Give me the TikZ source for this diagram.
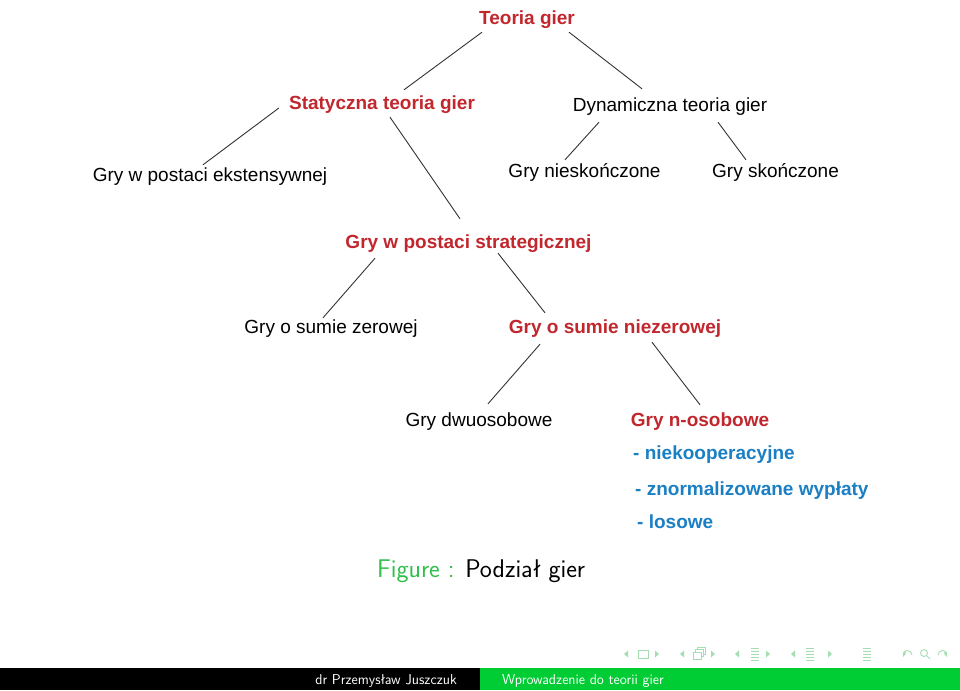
\documentclass[tikz,border=0pt]{standalone}
\usepackage{fontspec}
\newfontfamily\gamefont{Liberation Sans}
\usetikzlibrary{calc}
\definecolor{gred}{RGB}{193,39,45}
\definecolor{gblue}{RGB}{27,127,196}
\definecolor{capgreen}{RGB}{51,191,77}
\definecolor{bargreen}{RGB}{0,204,51}
\definecolor{navgreen}{RGB}{165,222,178}

\begin{document}
\begin{tikzpicture}[x=1pt, y=-1pt,
  gtxt/.style={font=\gamefont\fontsize{19}{22}\selectfont, anchor=base, inner sep=0pt, text height=14pt, text depth=4pt},
  redtxt/.style={gtxt, font=\gamefont\bfseries\fontsize{19}{22}\selectfont, text=gred},
  bluetxt/.style={gtxt, font=\gamefont\bfseries\fontsize{19}{22}\selectfont, text=gblue, anchor=base west},
  foot/.style={inner sep=0pt, text=white, font=\sffamily\fontsize{14.3}{16}\selectfont},
  e/.style={draw=black!80, line width=0.9pt}]
\fill[white] (0,0) rectangle (960,690);
\useasboundingbox (0,0) rectangle (960,690);

% tree
\node[redtxt] (tg) at (527,25) {Teoria gier};
\node[redtxt] (stg) at (382,110) {Statyczna teoria gier};
\node[gtxt] (dtg) at (670,112) {Dynamiczna teoria gier};
\node[gtxt] (ext) at (210,181) {Gry w postaci ekstensywnej};
\node[gtxt] (nie) at (584.5,177) {Gry nieskończone};
\node[gtxt] (sko) at (775.5,177) {Gry skończone};
\node[redtxt] (str) at (468.5,248) {Gry w postaci strategicznej};
\node[gtxt] (zer) at (331,333) {Gry o sumie zerowej};
\node[redtxt] (niez) at (615,333) {Gry o sumie niezerowej};
\node[gtxt] (dwu) at (479,426) {Gry dwuosobowe};
\node[redtxt] (nos) at (700,426) {Gry n-osobowe};
\node[bluetxt] (b1) at (633,459) {- niekooperacyjne};
\node[bluetxt] (b2) at (635,495) {- znormalizowane wypłaty};
\node[bluetxt] (b3) at (637,528) {- losowe};

\draw[e] ($(tg.south)+(-45,3)$) -- ($(stg.north)+(22,-6)$);
\draw[e] ($(tg.south)+(42,3)$) -- ($(dtg.north)+(-28,-9)$);
\draw[e] ($(stg.west)+(-10,3)$) -- ($(ext.north)+(-7,-2)$);
\draw[e] ($(stg.south)+(8,3)$) -- ($(str.north)+(-8.5,-15)$);
\draw[e] ($(dtg.south)+(-71,6)$) -- ($(nie.north)+(-19.5,-3)$);
\draw[e] ($(dtg.south)+(48,6)$) -- ($(sko.north)+(-29.5,-3)$);
\draw[e] ($(str.south)+(-93.5,6)$) -- ($(zer.north)+(-8,-1)$);
\draw[e] ($(str.south)+(29.5,1)$) -- ($(niez.north)+(-70,-6)$);
\draw[e] ($(niez.south)+(-75,7)$) -- ($(dwu.north)+(9,-8)$);
\draw[e] ($(niez.south)+(37,5)$) -- ($(nos.north)+(0,-7)$);

% caption
\node[anchor=base west, inner sep=0pt, font=\sffamily\fontsize{25.6}{29}\selectfont] (cap) at (377,577)
  {\textcolor{capgreen}{Figure :} Podział gier};

% navigation symbols
\begin{scope}[navgreen, line width=0.9pt]
\foreach \x in {624,680,735,791} \fill (\x,654) -- ++(4,-3.5) -- ++(0,7) -- cycle;
\foreach \x in {659,715,770,832} \fill (\x,654) -- ++(-4,-3.5) -- ++(0,7) -- cycle;
\draw (638,650) rectangle (648,658);
\draw (693,652) rectangle (701,659);
\draw (695,652) -- (695,649.5) -- (703,649.5) -- (703,656.5) -- (701,656.5);
\draw (697,649.5) -- (697,647) -- (705,647) -- (705,654) -- (703,654);
\foreach \x in {755,810,867} \foreach \yy in {648,651,654,657,660} \draw (\x-4,\yy) -- (\x+4,\yy);
\draw (912,655) arc (0:-200:4.5);
\fill (903,653) -- ++(3,-1) -- ++(-1,4) -- cycle;
\draw (924,653) circle (3.5);
\draw (926.5,655.5) -- (930,659);
\draw (938,655) arc (180:380:4.5);
\fill (947,653) -- ++(-3,-1) -- ++(1,4) -- cycle;
\end{scope}

% footline
\fill[black] (0,668) rectangle (480,690);
\fill[bargreen] (480,668) rectangle (960,690);
\node[foot, anchor=base east] (auth) at (457,684) {dr Przemysław Juszczuk};
\node[foot, anchor=base west] (ttl) at (502,684) {Wprowadzenie do teorii gier};
\end{tikzpicture}
\end{document}
